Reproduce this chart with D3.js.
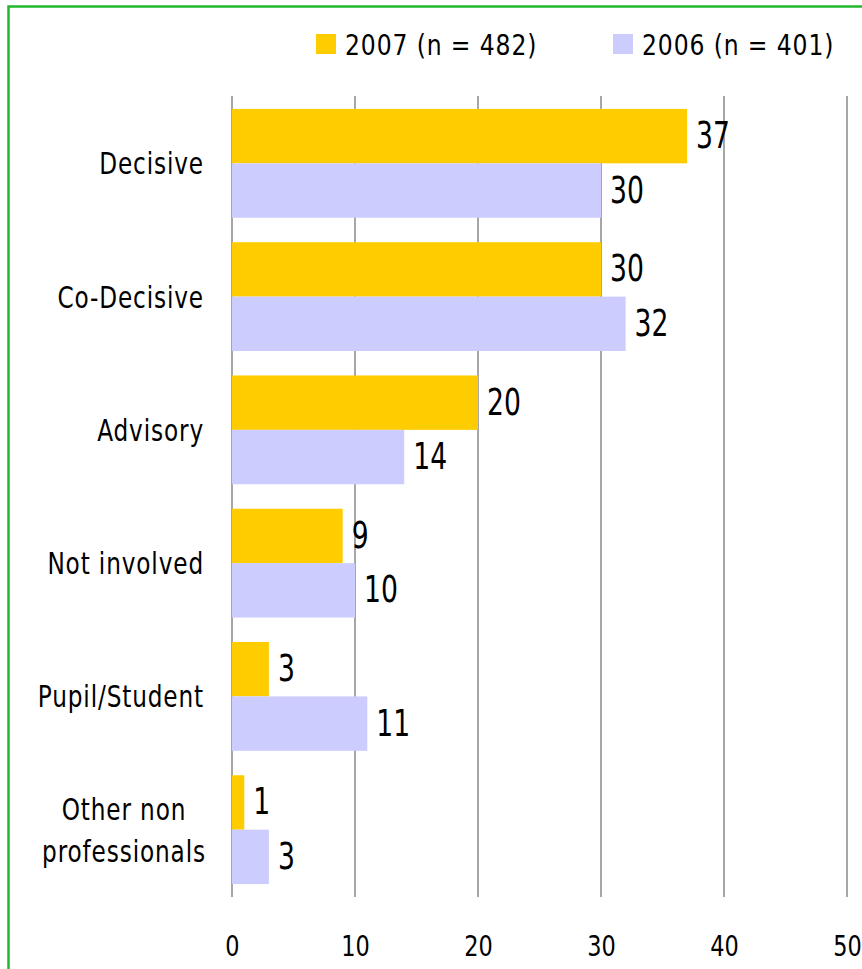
<!DOCTYPE html>
<html>
<head>
<meta charset="utf-8">
<script src="https://cdn.jsdelivr.net/npm/d3@7"></script>
<style>
  html, body { margin: 0; padding: 0; background: #fff; }
  svg { display: block; }
  text { font-family: "DejaVu Sans Condensed", "DejaVu Sans", sans-serif; fill: #000; }
</style>
</head>
<body>
<svg id="chart" width="862" height="969"></svg>
<script>
// Role of respondents in decisions, share in %
const categories = ["Decisive", "Co-Decisive", "Advisory", "Not involved", "Pupil/Student", "Other non professionals"];
const categoryLines = [["Decisive"], ["Co-Decisive"], ["Advisory"], ["Not involved"], ["Pupil/Student"], ["Other non", "professionals"]];
const series = ["2007 (n = 482)", "2006 (n = 401)"];
const values2007 = [37, 30, 20, 9, 3, 1];
const values2006 = [30, 32, 14, 10, 11, 3];
const tickValues = [0, 10, 20, 30, 40, 50];
const colors = ["#FFCC00", "#CCCCFF"];

const svg = d3.select("#chart");

// narrow glyphs: condensed face squeezed a little further horizontally
const squeeze = (px, py, sx) => `translate(${px},${py}) scale(${sx},1)`;

// frame
svg.append("rect")
  .attr("x", 8.5).attr("y", 6.5)
  .attr("width", 870).attr("height", 980)
  .attr("fill", "none")
  .attr("stroke", "#22B82E")
  .attr("stroke-width", 2.5);

const x = d3.scaleLinear().domain([0, 50]).range([232, 847]);
const y = d3.scaleBand().domain(categories).range([96, 897]).paddingInner(0.1835).paddingOuter(0.097);
const ySub = d3.scaleBand().domain(series).range([0, y.bandwidth()]);

// vertical gridlines
svg.append("g").selectAll("line")
  .data(tickValues)
  .join("line")
  .attr("x1", d => x(d)).attr("x2", d => x(d))
  .attr("y1", 96).attr("y2", 897)
  .attr("stroke", "#A6A6A6")
  .attr("stroke-width", 2);

// tick labels via a bottom axis
const axis = svg.append("g")
  .attr("transform", "translate(0,956)")
  .call(d3.axisBottom(x).tickValues(tickValues).tickSize(0).tickPadding(0));
axis.select(".domain").remove();
axis.selectAll("text")
  .attr("y", 0).attr("dy", 0)
  .attr("font-size", 29)
  .attr("transform", "scale(0.86,1)")
  .style("font-family", "'DejaVu Sans Condensed', sans-serif")
  .attr("fill", "#000");

const rows = categories.map((c, i) => ({ cat: c, vals: [values2007[i], values2006[i]] }));

const groups = svg.append("g").selectAll("g")
  .data(rows)
  .join("g")
  .attr("transform", d => `translate(0,${y(d.cat)})`);

const cells = d => d.vals.map((v, j) => ({ s: series[j], v, j }));

groups.selectAll("rect")
  .data(cells)
  .join("rect")
  .attr("x", x(0))
  .attr("y", d => ySub(d.s))
  .attr("width", d => x(d.v) - x(0))
  .attr("height", ySub.bandwidth())
  .attr("fill", d => colors[d.j]);

groups.selectAll("text.val")
  .data(cells)
  .join("text")
  .attr("class", "val")
  .attr("font-size", 37)
  .attr("transform", d => squeeze(x(d.v) + 9, ySub(d.s) + ySub.bandwidth() / 2 + 12, 0.8))
  .text(d => d.v);

// category labels, multi-line ones centred on their own block
const catLabels = svg.append("g").selectAll("text")
  .data(categories.map((c, i) => ({ c, lines: categoryLines[i] })))
  .join("text")
  .attr("font-size", 30)
  .attr("letter-spacing", 1)
  .attr("text-anchor", d => d.lines.length > 1 ? "middle" : "end")
  .attr("transform", d => {
    const cy = y(d.c) + y.bandwidth() / 2 + 11 - (d.lines.length - 1) * 21;
    return squeeze(d.lines.length > 1 ? 124 : 204, cy, 0.86);
  });
catLabels.selectAll("tspan")
  .data(d => d.lines.map((l, k) => ({ l, k })))
  .join("tspan")
  .attr("x", 0)
  .attr("y", d => d.k * 42)
  .text(d => d.l);

// legend
const legendX = [316, 613];
const legend = svg.append("g").selectAll("g")
  .data(series)
  .join("g")
  .attr("transform", (d, i) => `translate(${legendX[i]},34)`);
legend.append("rect")
  .attr("width", 20).attr("height", 20)
  .attr("fill", (d, i) => colors[i]);
legend.append("text")
  .attr("font-size", 29)
  .attr("letter-spacing", 1)
  .attr("transform", squeeze(29, 21, 0.9))
  .text(d => d);
</script>
</body>
</html>
